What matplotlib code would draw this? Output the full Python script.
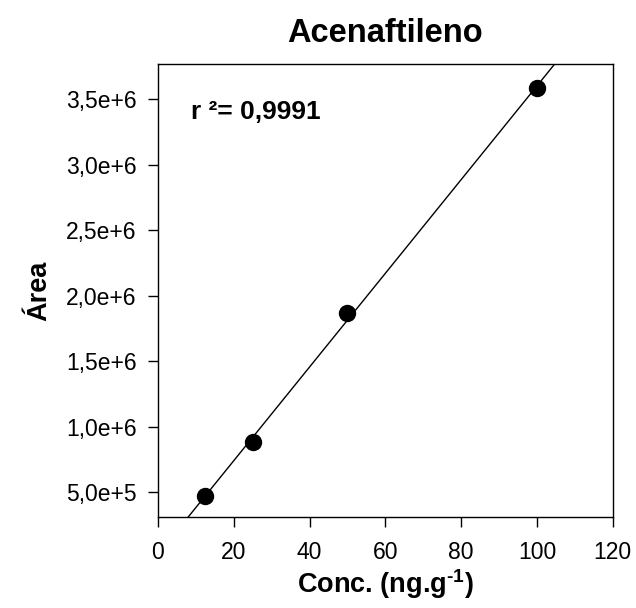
import numpy as np
import matplotlib
matplotlib.use("Agg")
import matplotlib.pyplot as plt
from matplotlib.ticker import FuncFormatter

# data
conc = [12.5, 25, 50, 100]
area = [4.72e5, 8.84e5, 1.869e6, 3.584e6]
x_ticks = [0, 20, 40, 60, 80, 100, 120]
y_ticks = [5e5, 1e6, 1.5e6, 2e6, 2.5e6, 3e6, 3.5e6]

plt.rcParams['font.family'] = ['Liberation Sans', 'DejaVu Sans']
plt.rcParams['mathtext.fontset'] = 'custom'
plt.rcParams['mathtext.rm'] = 'Liberation Sans:bold'
plt.rcParams['mathtext.bf'] = 'Liberation Sans:bold'

fig = plt.figure(figsize=(6.36, 6.08), dpi=100)
ax = fig.add_axes([0.2484, 0.1497, 0.715, 0.745])

# linear fit
slope, intercept = np.polyfit(conc, area, 1)
xf = np.array([0, 120])
ax.plot(xf, slope * xf + intercept, color='black', lw=1)
ax.plot(conc, area, 'o', color='black', ms=11.5)

ax.set_xlim(0, 120)
ax.set_ylim(3.11e5, 3.77e6)
ax.set_xticks(x_ticks)
ax.set_yticks(y_ticks)

def sci_comma(v, pos):
    exp = int(np.floor(np.log10(v)))
    mant = v / 10**exp
    return f"{mant:.1f}".replace('.', ',') + f"e+{exp}"

ax.yaxis.set_major_formatter(FuncFormatter(sci_comma))
ax.tick_params(direction='out', length=7.5, width=1, labelsize=16.5)
ax.tick_params(axis='x', pad=10)
ax.tick_params(axis='y', pad=8)
for s in ax.spines.values():
    s.set_linewidth(1)

ax.set_xlabel(r'Conc. (ng.g$^{\text{-1}}$)', fontsize=19.5, fontweight='bold', labelpad=2)
ax.set_ylabel('Área', fontsize=19.5, fontweight='bold', labelpad=10)
ax.set_title('Acenaftileno', fontsize=23.5, fontweight='bold', pad=16)
ax.text(0.073, 0.894, 'r ²= 0,9991', transform=ax.transAxes, fontsize=19,
        fontweight='bold', va='center')

fig.savefig('out.png', dpi=100)
